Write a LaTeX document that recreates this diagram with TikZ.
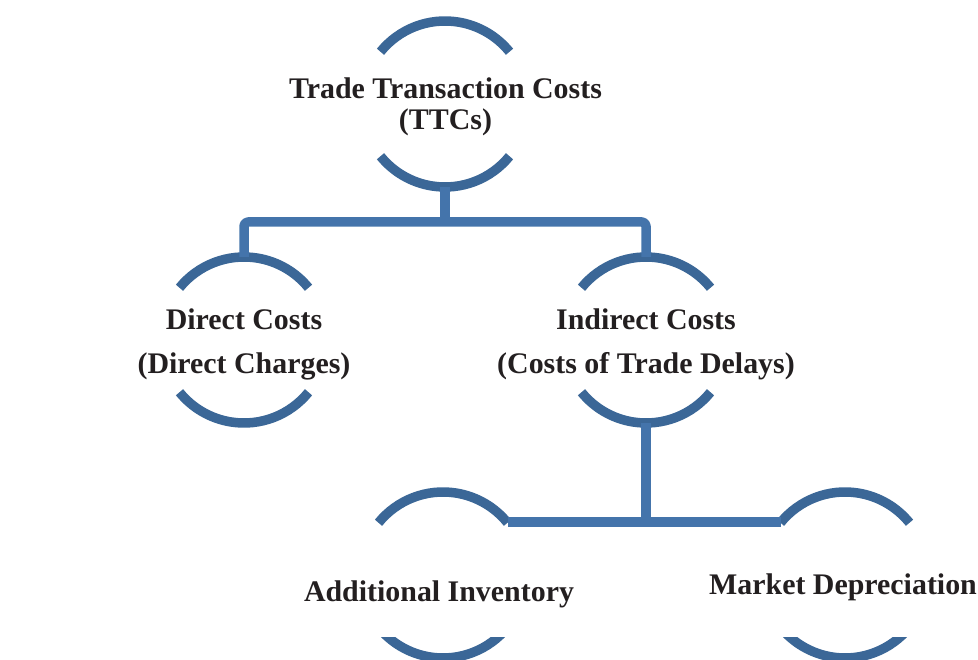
\documentclass[tikz,border=0pt]{standalone}
\usepackage{fontspec}
\setmainfont{Liberation Serif}
\usetikzlibrary{calc}
\definecolor{arcblue}{HTML}{3B6797}
\definecolor{lineblue}{HTML}{4474AB}
\definecolor{txt}{HTML}{231F20}
\begin{document}
\begin{tikzpicture}[x=1pt,y=-1pt,
  arcline/.style={draw=arcblue,line width=9.5pt,line cap=butt},
  conn/.style={draw=lineblue,line width=9.5pt,line cap=butt,line join=round},
  lbl/.style={text=txt,font=\bfseries\fontsize{29.9}{31.5}\selectfont,align=center,inner sep=0pt},
  lblw/.style={text=txt,font=\bfseries\fontsize{29.9}{44}\selectfont,align=center,inner sep=0pt}]
\useasboundingbox (0,0) rectangle (978,660);
% centres of the circles
\coordinate (cT) at (445,104);
\coordinate (cD) at (244,340);
\coordinate (cI) at (646,340);
\coordinate (cA) at (443,575);
\coordinate (cM) at (845,575);
% labels
\node[lbl] (ttc) at (445.5,107) {Trade Transaction Costs\\(TTCs)};
\node[lblw] (dc) at (244,344) {Direct Costs\\(Direct Charges)};
\node[lblw] (ic) at (646,344) {Indirect Costs\\(Costs of Trade Delays)};
\node[lbl,anchor=base] (ai) at (439,601) {Additional Inventory};
\node[lbl,anchor=base] (md) at (843,594) {Market Depreciation};
% arcs
\foreach \c in {cT,cD,cI,cA,cM}{
  \draw[arcline] (\c) ++(-141:83) arc[start angle=-141,end angle=-39,radius=83];
}
\foreach \c in {cT,cD,cI}{
  \draw[arcline] (\c) ++(39:83) arc[start angle=39,end angle=141,radius=83];
}
\begin{scope}
  \clip (0,637) rectangle (978,660);
  \foreach \c in {cA,cM}{
    \draw[arcline] (\c) ++(39:83) arc[start angle=39,end angle=141,radius=83];
  }
\end{scope}
% connector end points
\coordinate (ttcB) at ($(cT)+(0,83)$);
\coordinate (dcT) at ($(cD)+(0,-83)$);
\coordinate (icT) at ($(cI)+(0,-83)$);
\coordinate (icB) at ($(cI)+(0,83)$);
\coordinate (aiR) at ($(cA)+(-39:83)$);
\coordinate (mdL) at ($(cM)+(-141:83)$);
\coordinate (bar) at (0,222);
\coordinate (bar2) at (0,522);
% connectors
\draw[conn,rounded corners=4pt] (dcT) -- (dcT |- bar) -- (icT |- bar) -- (icT);
\draw[conn] (ttcB) -- (ttcB |- bar);
\draw[conn] (aiR |- bar2) -- (mdL |- bar2);
\draw[conn] (icB) -- (icB |- bar2);
\end{tikzpicture}
\end{document}
